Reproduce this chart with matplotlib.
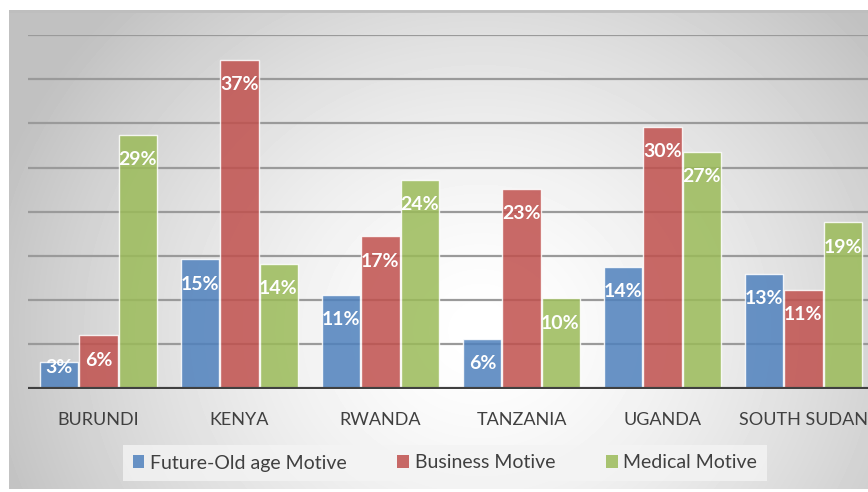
#!/usr/bin/env python3
"""Savings motives by country, grouped bar chart."""

import matplotlib

matplotlib.use("Agg")
import matplotlib.pyplot as plt
import numpy as np
from matplotlib.patches import Patch

countries = ["BURUNDI", "KENYA", "RWANDA", "TANZANIA", "UGANDA", "SOUTH SUDAN"]
series_names = ["Future-Old age Motive", "Business Motive", "Medical Motive"]
old_age = [3.0, 14.6, 10.6, 5.6, 13.8, 13.0]
business = [6.0, 37.2, 17.2, 22.6, 29.6, 11.2]
medical = [28.7, 14.1, 23.6, 10.2, 26.8, 18.8]
colors = ["#4F81BD", "#C0504D", "#9BBB59"]

plt.rcParams["font.family"] = ["Lato", "DejaVu Sans"]

W, H = 868, 492
fig = plt.figure(figsize=(W / 100, H / 100), dpi=100)

# grey panel with a soft radial highlight
px0, py0, px1, py1 = 9, 10, 880, 489
bg = fig.add_axes([px0 / W, 1 - py1 / H, (px1 - px0) / W, (py1 - py0) / H])
gx, gy = np.meshgrid(np.arange(px0, px1), np.arange(py0, py1))
dist = np.sqrt(((gx - 480) / 460.0) ** 2 + ((gy - 330) / 420.0) ** 2)
shade = 1.0 - 0.21 * np.clip(dist, 0, 1.1) ** 1.5
bg.imshow(shade, cmap="gray", vmin=0, vmax=1, aspect="auto", interpolation="bilinear")
bg.axhline(0, color="#BEBEBE", linewidth=2)
bg.set_axis_off()

base_y = 388.5
ax = fig.add_axes([28 / W, 1 - base_y / H, 846 / W, 353.5 / H])
ax.patch.set_alpha(0)
ax.set_xlim(-0.5, 5.5)
ax.set_ylim(0, 40)

for level in range(5, 41, 5):
    ax.axhline(level, color="#9A9A9A", linewidth=1.6, zorder=1)
ax.axhline(0, color="#404040", linewidth=3, zorder=4)

x = np.arange(len(countries))
width = 0.27
for offset, values, color in zip([-0.277, 0, 0.277], [old_age, business, medical], colors):
    ax.bar(x + offset, values, width, color=color, alpha=0.85,
           edgecolor=(1, 1, 1, 0.6), linewidth=1, zorder=2)
    for xi, v in zip(x + offset, values):
        ax.text(xi, max(v - 2.8, 2.4), f"{v:.0f}%", ha="center", va="center",
                color="white", fontsize=14, fontweight="bold", zorder=5)

ax.set_xticks(x, countries)
ax.tick_params(axis="x", length=0, pad=17, labelsize=13, labelcolor="#404040")
ax.set_yticks([])
for spine in ax.spines.values():
    spine.set_visible(False)

handles = [Patch(facecolor=c, alpha=0.85, edgecolor="none") for c in colors]
leg = fig.legend(handles, series_names, loc="center", bbox_to_anchor=(445 / W, 1 - 463 / H),
                 ncol=3, fontsize=14, frameon=True, fancybox=False,
                 handlelength=0.6, handleheight=0.6, handletextpad=0.3,
                 columnspacing=2.6, borderpad=0.5, borderaxespad=0,
                 labelcolor="#404040")
frame = leg.get_frame()
frame.set_facecolor("#F4F4F4")
frame.set_alpha(0.8)
frame.set_edgecolor("none")

fig.savefig("out.png", dpi=100)
